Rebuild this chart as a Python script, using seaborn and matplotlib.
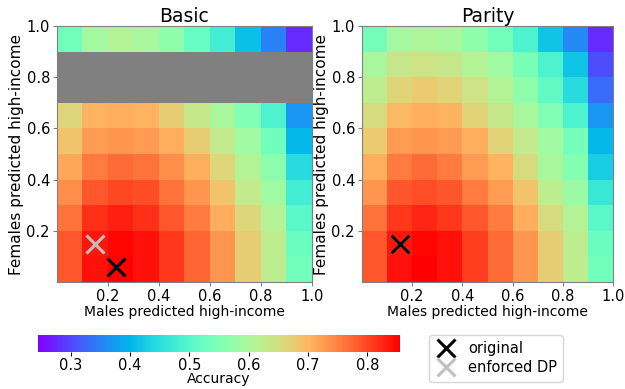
import numpy as np
import matplotlib
matplotlib.use("Agg")
import matplotlib.pyplot as plt
from matplotlib.lines import Line2D
import seaborn as sns

# === Data: accuracy grid, rows listed top (females 0.9-1.0) to bottom (0.0-0.1) ===
basic_acc = [
    [0.532, 0.593, 0.611, 0.599, 0.568, 0.520, 0.477, 0.410, 0.349, 0.276],
    [np.nan] * 10,
    [np.nan] * 10,
    [0.660, 0.703, 0.709, 0.703, 0.672, 0.635, 0.599, 0.550, 0.489, 0.367],
    [0.684, 0.727, 0.733, 0.727, 0.709, 0.672, 0.629, 0.587, 0.532, 0.404],
    [0.715, 0.757, 0.770, 0.764, 0.739, 0.709, 0.660, 0.611, 0.562, 0.446],
    [0.739, 0.788, 0.800, 0.794, 0.764, 0.733, 0.684, 0.629, 0.587, 0.477],
    [0.764, 0.818, 0.831, 0.818, 0.788, 0.757, 0.709, 0.660, 0.611, 0.507],
    [0.788, 0.837, 0.849, 0.843, 0.812, 0.776, 0.733, 0.672, 0.623, 0.526],
    [0.788, 0.843, 0.855, 0.843, 0.812, 0.776, 0.733, 0.672, 0.623, 0.532],
]
parity_acc = [
    [0.538, 0.593, 0.605, 0.599, 0.568, 0.532, 0.489, 0.416, 0.355, 0.276],
    [0.599, 0.635, 0.642, 0.635, 0.611, 0.587, 0.544, 0.489, 0.416, 0.306],
    [0.623, 0.666, 0.678, 0.666, 0.642, 0.611, 0.568, 0.513, 0.446, 0.330],
    [0.654, 0.696, 0.709, 0.703, 0.666, 0.635, 0.599, 0.550, 0.489, 0.367],
    [0.678, 0.727, 0.733, 0.727, 0.709, 0.666, 0.629, 0.587, 0.538, 0.404],
    [0.709, 0.757, 0.770, 0.757, 0.727, 0.703, 0.654, 0.599, 0.556, 0.428],
    [0.733, 0.788, 0.794, 0.788, 0.757, 0.727, 0.684, 0.623, 0.581, 0.465],
    [0.764, 0.812, 0.825, 0.812, 0.788, 0.757, 0.709, 0.654, 0.611, 0.507],
    [0.788, 0.837, 0.849, 0.843, 0.806, 0.770, 0.733, 0.672, 0.623, 0.526],
    [0.788, 0.843, 0.855, 0.843, 0.806, 0.770, 0.733, 0.672, 0.623, 0.532],
]
acc_min, acc_max = 0.245, 0.855

# operating points (male rate, female rate)
basic_original = (0.23, 0.06)
basic_dp = (0.15, 0.15)
parity_original = (0.15, 0.15)
parity_dp = (0.15, 0.15)

tick_vals = [0.2, 0.4, 0.6, 0.8, 1.0]
tick_labels = ["0.2", "0.4", "0.6", "0.8", "1.0"]
n_cells = 10

# === Figure ===
fig = plt.figure(figsize=(6.25, 3.89), dpi=100)
ax_basic = fig.add_axes([0.091, 0.275, 0.408, 0.658])
ax_parity = fig.add_axes([0.579, 0.275, 0.402, 0.658])
cax = fig.add_axes([0.061, 0.094, 0.579, 0.046])


def draw_panel(ax, grid, title, orig, dp, cbar):
    sns.heatmap(grid, ax=ax, cmap="rainbow", vmin=acc_min, vmax=acc_max,
                cbar=cbar, cbar_ax=cax if cbar else None,
                cbar_kws={"orientation": "horizontal"} if cbar else None,
                xticklabels=False, yticklabels=False, square=False)
    ax.set_facecolor("gray")
    # data value -> heatmap cell coordinate
    ax.set_xticks([v * n_cells for v in tick_vals])
    ax.set_xticklabels(tick_labels, fontsize=10.5)
    ax.set_yticks([(1 - v) * n_cells for v in tick_vals])
    ax.set_yticklabels(tick_labels, fontsize=10.5, rotation=0)
    ax.tick_params(length=3, color="gray", pad=2)
    for s in ax.spines.values():
        s.set_visible(True)
        s.set_color("gray")
        s.set_linewidth(0.8)
    ax.plot(dp[0] * n_cells, (1 - dp[1]) * n_cells, "x", color="silver",
            ms=13, mew=2.2)
    ax.plot(orig[0] * n_cells, (1 - orig[1]) * n_cells, "x", color="black",
            ms=13, mew=2.2)
    ax.set_title(title, fontsize=13.5, pad=2)
    ax.set_xlabel("Males predicted high-income", fontsize=10, labelpad=1)
    ax.set_ylabel("Females predicted high-income", fontsize=11, labelpad=2)


draw_panel(ax_basic, basic_acc, "Basic", basic_original, basic_dp, True)
draw_panel(ax_parity, parity_acc, "Parity", parity_original, parity_dp, False)

cax.set_xticks([0.3, 0.4, 0.5, 0.6, 0.7, 0.8])
cax.tick_params(labelsize=10.5, length=3, pad=1)
cax.set_xlabel("Accuracy", fontsize=10, labelpad=-1)

handles = [
    Line2D([], [], ls="", marker="x", color="black", ms=13, mew=2.2),
    Line2D([], [], ls="", marker="x", color="silver", ms=13, mew=2.2),
]
fig.legend(handles, ["original", "enforced DP"], loc="lower left",
           bbox_to_anchor=(0.675, 0.0), fontsize=10.5, frameon=True,
           handlelength=1.4, handletextpad=0.8, borderpad=0.45,
           labelspacing=0.25)

fig.savefig("out.png", dpi=100)
